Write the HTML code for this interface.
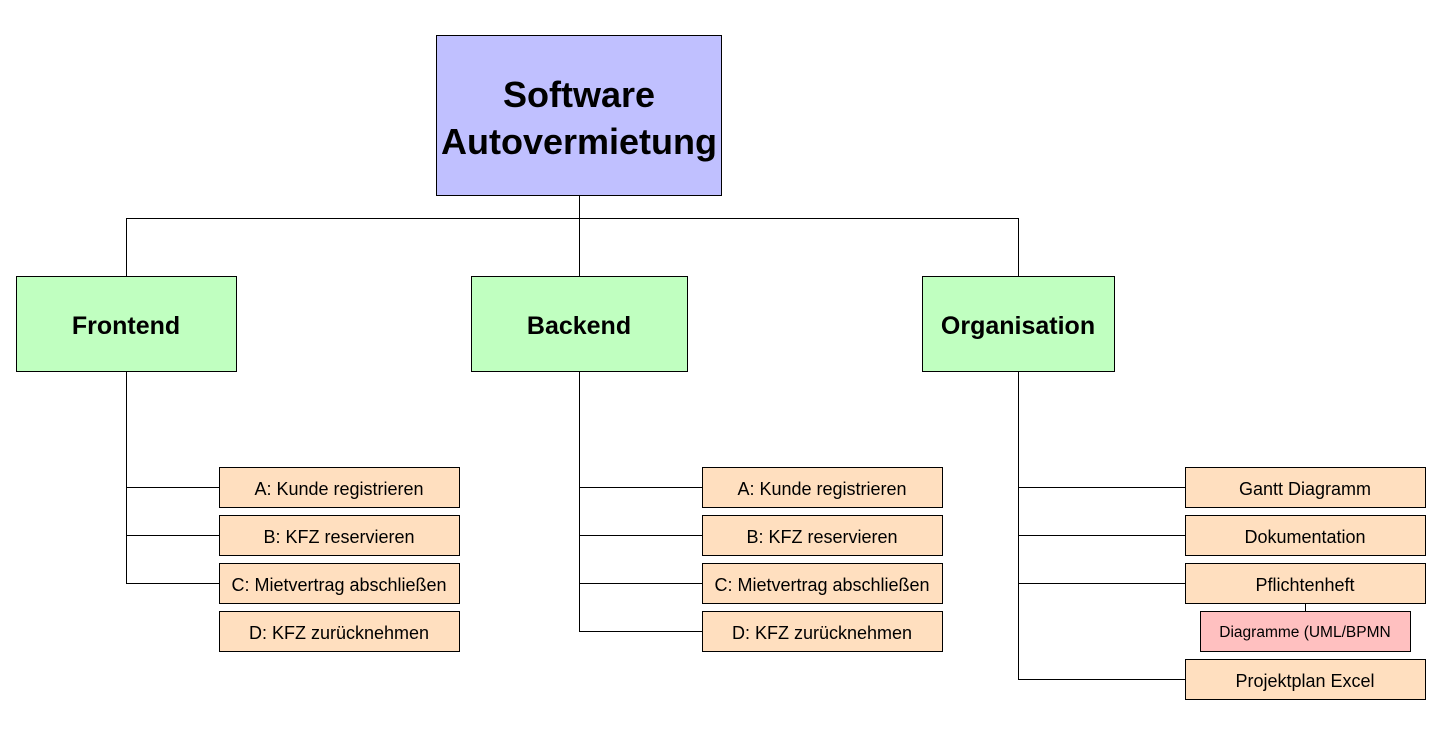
<!DOCTYPE html>
<html><head><meta charset="utf-8"><style>
html,body{margin:0;padding:0;background:#fff;}
svg{display:block;font-family:"Liberation Sans",Arial,sans-serif;}
</style></head><body>
<svg width="1438" height="740" viewBox="0 0 1438 740" xmlns="http://www.w3.org/2000/svg">
<g stroke="#000" stroke-width="1" fill="none" shape-rendering="crispEdges">
<line x1="579.5" y1="196" x2="579.5" y2="276"/>
<line x1="126.5" y1="218.5" x2="1018.5" y2="218.5"/>
<line x1="126.5" y1="218" x2="126.5" y2="276"/>
<line x1="1018.5" y1="218" x2="1018.5" y2="276"/>
<line x1="126.5" y1="371" x2="126.5" y2="583.5"/>
<line x1="126" y1="487.5" x2="219" y2="487.5"/>
<line x1="126" y1="535.5" x2="219" y2="535.5"/>
<line x1="126" y1="583.5" x2="219" y2="583.5"/>
<line x1="579.5" y1="371" x2="579.5" y2="631.5"/>
<line x1="579" y1="487.5" x2="702" y2="487.5"/>
<line x1="579" y1="535.5" x2="702" y2="535.5"/>
<line x1="579" y1="583.5" x2="702" y2="583.5"/>
<line x1="579" y1="631.5" x2="702" y2="631.5"/>
<line x1="1018.5" y1="371" x2="1018.5" y2="679.5"/>
<line x1="1018" y1="487.5" x2="1185" y2="487.5"/>
<line x1="1018" y1="535.5" x2="1185" y2="535.5"/>
<line x1="1018" y1="583.5" x2="1185" y2="583.5"/>
<line x1="1018" y1="679.5" x2="1185" y2="679.5"/>
<line x1="1305.5" y1="603" x2="1305.5" y2="611"/>
</g>
<g stroke="#000" stroke-width="1" shape-rendering="crispEdges">
<rect x="436.5" y="35.5" width="285" height="160" fill="#c0c0ff"/>
<rect x="16.5" y="276.5" width="220" height="95" fill="#c0ffc0"/>
<rect x="471.5" y="276.5" width="216" height="95" fill="#c0ffc0"/>
<rect x="922.5" y="276.5" width="192" height="95" fill="#c0ffc0"/>
<g fill="#ffdfbf">
<rect x="219.5" y="467.5" width="240" height="40"/>
<rect x="219.5" y="515.5" width="240" height="40"/>
<rect x="219.5" y="563.5" width="240" height="40"/>
<rect x="219.5" y="611.5" width="240" height="40"/>
<rect x="702.5" y="467.5" width="240" height="40"/>
<rect x="702.5" y="515.5" width="240" height="40"/>
<rect x="702.5" y="563.5" width="240" height="40"/>
<rect x="702.5" y="611.5" width="240" height="40"/>
<rect x="1185.5" y="467.5" width="240" height="40"/>
<rect x="1185.5" y="515.5" width="240" height="40"/>
<rect x="1185.5" y="563.5" width="240" height="40"/>
<rect x="1185.5" y="659.5" width="240" height="40"/>
</g>
<rect x="1200.5" y="611.5" width="210" height="40" fill="#ffc0c0"/>
</g>
<g text-anchor="middle" fill="#000">
<g font-weight="bold" font-size="36">
<text x="579" y="107">Software</text>
<text x="579" y="154">Autovermietung</text>
</g>
<g font-weight="bold" font-size="25">
<text x="126" y="334">Frontend</text>
<text x="579" y="334">Backend</text>
<text x="1018" y="334">Organisation</text>
</g>
<g font-size="18">
<text x="339" y="495">A: Kunde registrieren</text>
<text x="339" y="543">B: KFZ reservieren</text>
<text x="339" y="591">C: Mietvertrag abschließen</text>
<text x="339" y="639">D: KFZ zurücknehmen</text>
<text x="822" y="495">A: Kunde registrieren</text>
<text x="822" y="543">B: KFZ reservieren</text>
<text x="822" y="591">C: Mietvertrag abschließen</text>
<text x="822" y="639">D: KFZ zurücknehmen</text>
<text x="1305" y="495">Gantt Diagramm</text>
<text x="1305" y="543">Dokumentation</text>
<text x="1305" y="591">Pflichtenheft</text>
<text x="1305" y="687">Projektplan Excel</text>
</g>
<text x="1305" y="637" font-size="15.5">Diagramme (UML/BPMN</text>
</g>
</svg>
</body></html>
